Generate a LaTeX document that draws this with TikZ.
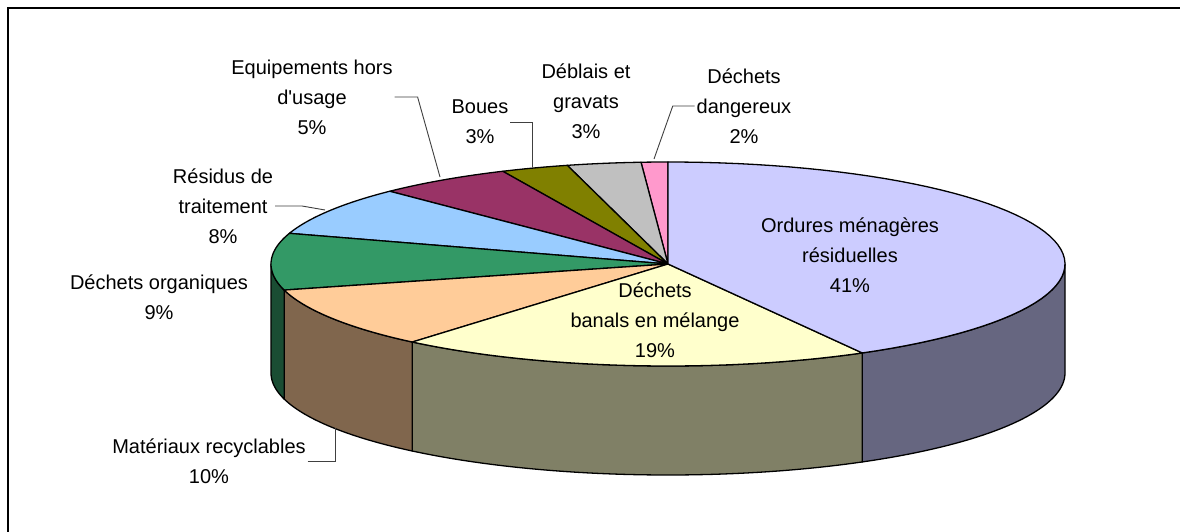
\documentclass[tikz,border=0pt]{standalone}
\usepackage{fontspec}
\setmainfont{Liberation Sans}
\definecolor{cLav}{HTML}{CCCCFF}
\definecolor{cLavS}{HTML}{666680}
\definecolor{cYel}{HTML}{FFFFCC}
\definecolor{cYelS}{HTML}{808066}
\definecolor{cPea}{HTML}{FFCC99}
\definecolor{cPeaS}{HTML}{80664D}
\definecolor{cGre}{HTML}{339966}
\definecolor{cGreS}{HTML}{1A4D33}
\definecolor{cBlu}{HTML}{99CCFF}
\definecolor{cPur}{HTML}{993366}
\definecolor{cOli}{HTML}{808000}
\definecolor{cGra}{HTML}{C0C0C0}
\definecolor{cPin}{HTML}{FF99CC}
\newcommand\pcx{668}
\newcommand\pcy{264}
\newcommand\prx{397}
\newcommand\pry{102}
\newcommand\pdep{109}
\newcommand\sidewall[3]{%
  \filldraw[slice, fill=#3]
    plot[domain=#1:#2, samples=40] ({\pcx+\prx*cos(\x)},{\pcy-\pry*sin(\x)})
    -- plot[domain=#2:#1, samples=40] ({\pcx+\prx*cos(\x)},{\pcy+\pdep-\pry*sin(\x)})
    -- cycle;}
\newcommand\topslice[3]{%
  \filldraw[slice, fill=#3] (\pcx,\pcy)
    -- plot[domain=#1:#2, samples=60] ({\pcx+\prx*cos(\x)},{\pcy-\pry*sin(\x)})
    -- cycle;}
\begin{document}
\begin{tikzpicture}[x=1pt,y=-1pt,
  lbl/.style={font=\fontsize{20}{30}\selectfont, align=center, inner sep=2pt, outer sep=0pt, text=black},
  slice/.style={draw=black, line width=1.3pt, line join=round},
  leader/.style={draw=black!75, line width=0.9pt}]
\useasboundingbox (0,0) rectangle (1180,532);
\fill[white] (0,0) rectangle (1180,532);
\draw[line width=2.2pt] (8,532) -- (8,8) -- (1180,8);

% side walls
\sidewall{-60.7}{0}{cLavS}
\sidewall{-130.1}{-60.7}{cYelS}
\sidewall{-165.2}{-130.1}{cPeaS}
\sidewall{-180}{-165.2}{cGreS}

% top face
\topslice{90}{93.9}{cPin}
\topslice{93.9}{104.7}{cGra}
\topslice{104.7}{114.6}{cOli}
\topslice{114.6}{134.5}{cPur}
\topslice{134.5}{162.5}{cBlu}
\topslice{162.5}{194.8}{cGre}
\topslice{194.8}{229.9}{cPea}
\topslice{229.9}{299.3}{cYel}
\topslice{299.3}{450}{cLav}

% labels
\node[lbl] (equip) at (312,97) {Equipements hors\\d\textquotesingle usage\\5\%};
\node[lbl] (boues) at (480,122) {Boues\\3\%};
\node[lbl] (debl) at (586,101) {Déblais et\\gravats\\3\%};
\node[lbl] (dang) at (744,106) {Déchets\\dangereux\\2\%};
\node[lbl] (resid) at (223,206) {Résidus de\\traitement\\8\%};
\node[lbl] (orga) at (159,297) {Déchets organiques\\9\%};
\node[lbl] (mat) at (209,461) {Matériaux recyclables\\10\%};
\node[lbl] (ordu) at (850,255) {Ordures ménagères\\résiduelles\\41\%};
\node[lbl] (bana) at (655,320) {Déchets\\banals en mélange\\19\%};

% leader ends
\coordinate (e1) at (440,177);
\coordinate (b1) at (532,167);
\coordinate (d1) at (654,159);
\coordinate (r1) at (325,210);
\coordinate (m1) at (335,428);

\draw[leader] (equip.east) -- ++(23,0) -- (e1);
\draw[leader] (boues.east) -- (boues.east -| b1) -- (b1);
\draw[leader] (dang.west) -- ++(-22,0) -- (d1);
\draw[leader] (resid.east) -- ++(27,0) -- (r1);
\draw[leader] (mat.east) -- (mat.east -| m1) -- (m1);
\end{tikzpicture}
\end{document}
